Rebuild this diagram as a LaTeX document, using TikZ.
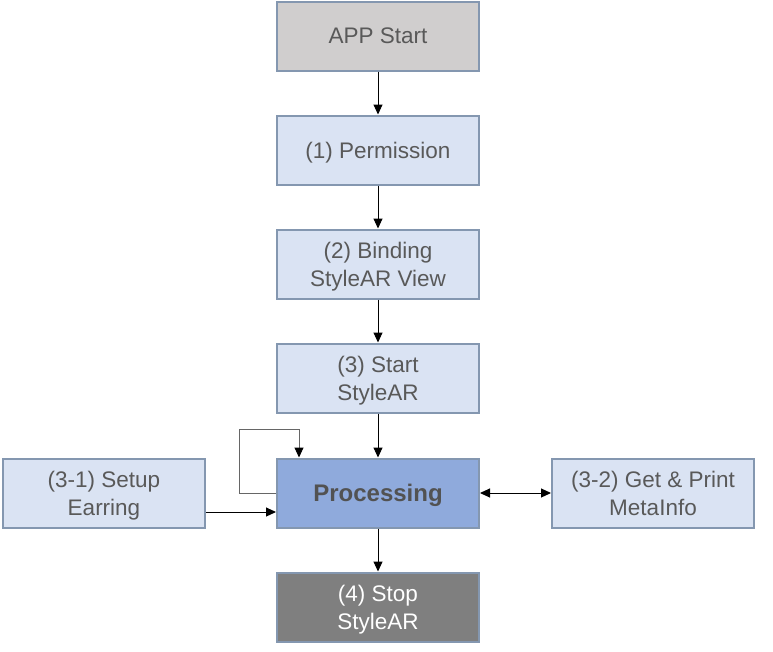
\documentclass[tikz,border=0pt]{standalone}
\usepackage{fontspec}
\setmainfont{Liberation Sans}
\usetikzlibrary{arrows.meta}
\definecolor{bord}{HTML}{8497B0}
\definecolor{lightb}{HTML}{DAE3F3}
\definecolor{midb}{HTML}{8FAADC}
\definecolor{greyf}{HTML}{D0CECE}
\definecolor{darkf}{HTML}{7F7F7F}
\definecolor{txt}{HTML}{595959}
\tikzset{
  box/.style={draw=bord, line width=2pt, minimum width=202pt, minimum height=69pt,
    inner sep=0pt, align=center, text=txt, text depth=0pt, font=\fontsize{22.5}{28}\selectfont},
  lbox/.style={box, fill=lightb},
  arr/.style={-{Triangle[length=10pt,width=9pt,color=black]}, line width=1pt, black},
}
\begin{document}
\begin{tikzpicture}[x=1pt,y=1pt]
\useasboundingbox (0,0) rectangle (773,-651);
\node[box, fill=greyf] (app) at (378,-36) {APP Start};
\node[lbox] (perm) at (378,-150) {(1) Permission};
\node[lbox] (bind) at (378,-264) {(2) Binding\\StyleAR View};
\node[lbox] (start) at (378,-378) {(3) Start\\StyleAR};
\node[box, fill=midb, text=black!68, font=\fontsize{24}{28}\selectfont\bfseries] (proc) at (378,-493) {Processing};
\node[box, fill=darkf, text=white] (stop) at (378,-607) {(4) Stop\\StyleAR};
\node[lbox] (setup) at (104,-493) {(3-1) Setup\\Earring};
\node[lbox] (meta) at (653,-493) {(3-2) Get \& Print\\MetaInfo};
\draw[arr] (app) -- (perm);
\draw[arr] (perm) -- (bind);
\draw[arr] (bind) -- (start);
\draw[arr] (start) -- (proc);
\draw[arr] (proc) -- (stop);
\draw[arr] (setup.east |- 0,-512) -- (proc.west |- 0,-512);
\draw[arr, {Triangle[length=10pt,width=9pt]}-{Triangle[length=10pt,width=9pt]}] (proc) -- (meta);
\coordinate (l1) at (239,-493);
\coordinate (l2) at (239,-429);
\coordinate (l3) at (299,-429);
\draw[arr, draw=black!60] (proc.west |- l1) -- (l1) -- (l2) -- (l3) -- (l3 |- proc.north);
\end{tikzpicture}
\end{document}
